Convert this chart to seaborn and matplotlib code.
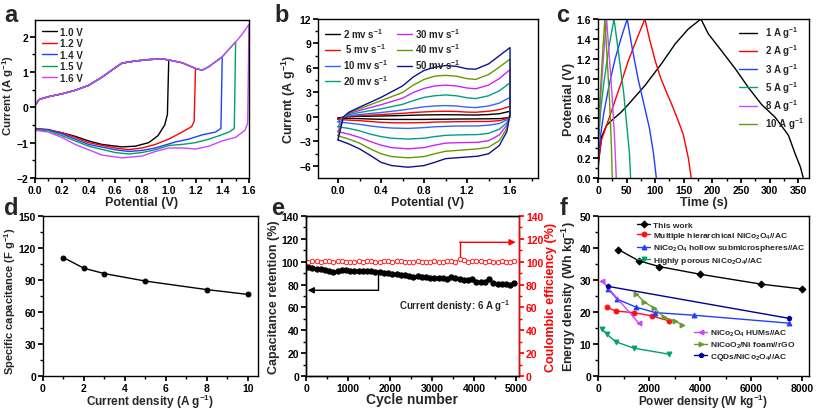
import matplotlib

matplotlib.use("Agg")
import matplotlib.pyplot as plt
import seaborn as sns
from matplotlib.ticker import FormatStrFormatter, MultipleLocator

# ---- panel a: CV at different voltage windows ----
a_windows = ["1.0 V", "1.2 V", "1.4 V", "1.5 V", "1.6 V"]
a_colors = ["#000000", "#ff0000", "#1f3fff", "#00a060", "#cc44ff"]
a_up_x = [0.0, 0.0, 0.03, 0.1, 0.2, 0.3, 0.4, 0.5, 0.6, 0.65, 0.75, 0.85, 0.95,
          1.0, 1.1, 1.2, 1.25, 1.3, 1.4, 1.5, 1.55, 1.6]
a_up_y = [-0.6, 0.05, 0.22, 0.3, 0.38, 0.48, 0.62, 0.85, 1.12, 1.25, 1.31, 1.35,
          1.37, 1.34, 1.26, 1.1, 1.05, 1.15, 1.43, 1.85, 2.07, 2.35]
a_vertex = [1.0, 1.2, 1.4, 1.5, 1.6]
a_dn_x = {
    "1.0 V": [1.0, 0.99, 0.97, 0.92, 0.85, 0.75, 0.65, 0.5, 0.4, 0.3, 0.2, 0.1, 0.0],
    "1.2 V": [1.2, 1.19, 1.17, 1.1, 1.0, 0.9, 0.8, 0.7, 0.6, 0.4, 0.3, 0.2, 0.1, 0.0],
    "1.4 V": [1.4, 1.39, 1.35, 1.25, 1.15, 1.05, 0.9, 0.8, 0.7, 0.6, 0.4, 0.3, 0.2, 0.1, 0.0],
    "1.5 V": [1.5, 1.49, 1.45, 1.38, 1.3, 1.2, 1.1, 1.0, 0.9, 0.8, 0.7, 0.6, 0.4, 0.3, 0.2, 0.1, 0.0],
    "1.6 V": [1.6, 1.59, 1.57, 1.5, 1.4, 1.3, 1.2, 1.1, 1.0, 0.9, 0.8, 0.65, 0.5, 0.4, 0.3, 0.2, 0.1, 0.0],
}
a_dn_y = {
    "1.0 V": [1.34, -0.2, -0.5, -0.8, -1.0, -1.1, -1.12, -1.05, -0.95, -0.82, -0.72, -0.65, -0.6],
    "1.2 V": [1.1, -0.4, -0.55, -0.7, -0.9, -1.05, -1.15, -1.2, -1.15, -1.0, -0.85, -0.72, -0.63, -0.6],
    "1.4 V": [1.43, -0.6, -0.7, -0.78, -0.9, -0.98, -1.15, -1.22, -1.25, -1.2, -1.05, -0.9, -0.75, -0.63, -0.62],
    "1.5 V": [1.85, -0.6, -0.7, -0.8, -0.9, -1.0, -1.05, -1.08, -1.2, -1.28, -1.32, -1.28, -1.1, -0.95, -0.8, -0.66, -0.63],
    "1.6 V": [2.35, -0.45, -0.65, -0.85, -0.95, -1.1, -1.18, -1.15, -1.15, -1.25, -1.38, -1.43, -1.35, -1.2, -1.05, -0.85, -0.7, -0.65],
}

# ---- panel b: CV at different scan rates ----
b_rates = ["2 mv s$^{-1}$", " 5 mv s$^{-1}$", "10 mv s$^{-1}$", "20 mv s$^{-1}$",
           "30 mv s$^{-1}$", "40 mv s$^{-1}$", "50 mv s$^{-1}$"]
b_colors = ["#000000", "#ff0000", "#3366ff", "#00a080", "#cc22ff", "#669900", "#101090"]
b_up_x = [0.0, 0.05, 0.1, 0.2, 0.4, 0.6, 0.7, 0.8, 0.9, 1.0, 1.1, 1.2, 1.28, 1.4, 1.5, 1.6]
b_dn_x = [1.6, 1.57, 1.5, 1.4, 1.3, 1.1, 1.0, 0.9, 0.8, 0.65, 0.5, 0.4, 0.3, 0.2, 0.1, 0.0]
b_up_y = [
    [-0.15, 0.0, 0.05, 0.08, 0.12, 0.18, 0.22, 0.25, 0.27, 0.28, 0.27, 0.25, 0.24, 0.3, 0.4, 0.7],
    [-0.3, 0.0, 0.1, 0.15, 0.3, 0.45, 0.55, 0.62, 0.68, 0.7, 0.68, 0.6, 0.58, 0.7, 0.9, 1.3],
    [-0.6, 0.0, 0.15, 0.3, 0.55, 0.85, 1.05, 1.25, 1.35, 1.4, 1.35, 1.2, 1.15, 1.35, 1.7, 2.4],
    [-1.2, -0.05, 0.3, 0.55, 1.0, 1.55, 2.0, 2.4, 2.6, 2.7, 2.6, 2.35, 2.25, 2.6, 3.2, 4.2],
    [-1.8, -0.1, 0.4, 0.8, 1.5, 2.3, 3.0, 3.5, 3.8, 3.9, 3.8, 3.55, 3.45, 3.9, 4.7, 5.8],
    [-2.3, -0.1, 0.5, 1.0, 2.0, 3.0, 3.9, 4.6, 5.0, 5.1, 5.0, 4.7, 4.6, 5.2, 6.1, 7.1],
    [-2.8, 0.0, 0.57, 1.2, 2.4, 3.8, 4.9, 5.7, 6.1, 6.3, 6.2, 5.9, 5.85, 6.5, 7.5, 8.5],
]
b_dn_y = [
    [0.0, -0.1, -0.2, -0.22, -0.23, -0.25, -0.27, -0.28, -0.3, -0.3, -0.3, -0.28, -0.25, -0.2, -0.17, -0.15],
    [0.05, -0.2, -0.45, -0.55, -0.55, -0.58, -0.6, -0.62, -0.68, -0.72, -0.7, -0.65, -0.55, -0.45, -0.38, -0.3],
    [0.1, -0.35, -0.8, -1.0, -1.1, -1.1, -1.15, -1.2, -1.3, -1.4, -1.35, -1.25, -1.1, -0.9, -0.75, -0.6],
    [0.2, -0.7, -1.5, -2.0, -2.15, -2.2, -2.25, -2.4, -2.6, -2.7, -2.6, -2.4, -2.1, -1.7, -1.4, -1.2],
    [0.3, -1.0, -2.2, -2.9, -3.1, -3.15, -3.2, -3.45, -3.75, -3.9, -3.75, -3.45, -3.0, -2.5, -2.1, -1.8],
    [0.3, -1.4, -2.9, -3.7, -3.9, -4.1, -4.2, -4.5, -4.85, -5.0, -4.85, -4.5, -3.9, -3.2, -2.7, -2.3],
    [0.4, -1.8, -3.5, -4.5, -4.8, -5.0, -5.1, -5.55, -5.95, -6.15, -5.95, -5.55, -4.7, -3.9, -3.3, -2.8],
]

# ---- panel c: charge/discharge curves ----
c_labels = ["1 A g$^{-1}$", "2 A g$^{-1}$", "3 A g$^{-1}$", "5 A g$^{-1}$",
            "8 A g$^{-1}$", "10 A g$^{-1}$"]
c_colors = ["#000000", "#ff0000", "#1f3fff", "#00a070", "#cc44ff", "#669900"]
c_t = [
    [0, 6, 15, 24, 40, 53, 82, 111, 135, 158, 180, 193, 216, 240, 263, 286, 310, 333, 345, 354, 359],
    [0, 6, 24, 40, 53, 70, 82, 90, 100, 110, 120, 129, 140, 149, 158, 163],
    [0, 5, 10, 20, 30, 40, 51, 60, 70, 80, 90, 97, 102],
    [0, 5, 10, 20, 28, 35, 45, 50, 55, 57],
    [0, 5, 10, 15, 20, 25, 29, 32],
    [0, 4, 8, 12, 16, 20, 23, 25],
]
c_v = [
    [0.1, 0.41, 0.53, 0.58, 0.66, 0.74, 0.93, 1.15, 1.35, 1.5, 1.6, 1.45, 1.28, 1.1, 0.91, 0.74, 0.61, 0.43, 0.24, 0.11, 0.0],
    [0.15, 0.38, 0.68, 0.95, 1.18, 1.43, 1.6, 1.4, 1.18, 1.0, 0.86, 0.74, 0.58, 0.44, 0.2, 0.0],
    [0.2, 0.45, 0.65, 0.95, 1.2, 1.4, 1.6, 1.3, 1.0, 0.75, 0.5, 0.25, 0.0],
    [0.3, 0.7, 0.95, 1.35, 1.6, 1.3, 0.85, 0.55, 0.25, 0.0],
    [0.35, 0.85, 1.25, 1.6, 1.2, 0.8, 0.4, 0.0],
    [0.4, 0.85, 1.25, 1.6, 1.2, 0.8, 0.4, 0.0],
]

# ---- panel d: rate capability ----
d_current = [1, 2, 3, 5, 8, 10]
d_capacitance = [111, 101, 96, 89, 81, 76.5]

# ---- panel e: cycling ----
e_cycles = list(range(50, 5000, 100))
e_retention = [95.5, 94.5, 93.8, 93.2, 92.8, 92.3, 91.2, 91.5, 92.6, 92.8,
               92.3, 92.0, 92.2, 92.0, 91.8, 91.5, 91.0, 91.2, 90.5, 90.0,
               89.6, 89.2, 88.6, 88.0, 87.3, 87.0, 87.8, 86.8, 86.2, 86.0,
               85.8, 85.9, 85.6, 84.6, 86.2, 85.8, 85.0, 83.8, 84.0, 84.6,
               82.5, 82.0, 82.3, 84.8, 81.0, 80.8, 80.6, 80.4, 79.8, 81.0]
e_efficiency = [99.5, 100.8, 100.2, 99.6, 100.9, 100.3, 99.8, 100.6, 101.0, 100.1,
                99.4, 99.7, 100.5, 99.9, 100.7, 100.3, 100.0, 99.6, 100.8, 100.4,
                99.7, 100.2, 100.6, 99.8, 100.1, 99.5, 100.3, 99.9, 100.0, 99.6,
                100.2, 99.8, 99.9, 100.3, 100.5, 99.8, 102.0, 101.2, 99.6, 100.9,
                100.4, 101.0, 99.9, 100.5, 100.0, 99.8, 100.3, 100.1, 99.7, 100.2]

# ---- panel f: Ragone plot ----
f_labels = ["This work", "Multiple hierarchical NiCo$_2$O$_4$//AC",
            "NiCo$_2$O$_4$ hollow submicrospheres//AC", "Highly porous NiCo$_2$O$_4$//AC",
            "NiCo$_2$O$_4$ HUMs//AC", "NiCoO$_2$/Ni foam//rGO", "CQDs/NiCo$_2$O$_4$//AC"]
f_colors = ["#000000", "#ff1010", "#1f3fff", "#00a070", "#cc44ff", "#669933", "#000090"]
f_markers = ["D", "o", "^", "v", "<", ">", "p"]
f_power = [
    [800, 1600, 2400, 4000, 6400, 8000],
    [350, 700, 1400, 2100, 2800],
    [400, 750, 1500, 2250, 3750, 7500],
    [150, 350, 700, 1400, 2800],
    [150, 1600],
    [1500, 1800, 2200, 2600, 3000, 3300],
    [400, 7500],
]
f_energy = [
    [39.5, 36.0, 34.2, 31.8, 28.7, 27.2],
    [21.5, 20.3, 19.8, 18.8, 17.2],
    [27.3, 24.0, 21.5, 19.8, 19.0, 16.5],
    [14.8, 13.0, 10.7, 8.7, 6.8],
    [29.8, 16.5],
    [25.7, 23.2, 21.2, 18.3, 17.2, 16.0],
    [28.0, 18.0],
]

sns.set_theme(style="ticks")
plt.rcParams["font.family"] = ["Liberation Sans", "DejaVu Sans"]
plt.rcParams.update({
    "font.weight": "bold",
    "axes.labelweight": "bold",
    "axes.edgecolor": "black",
    "axes.linewidth": 1.0,
    "xtick.color": "black",
    "ytick.color": "black",
    "xtick.labelsize": 7.5,
    "ytick.labelsize": 7.5,
    "axes.labelsize": 9,
    "xtick.major.size": 3.5,
    "ytick.major.size": 3.5,
    "xtick.minor.size": 2,
    "ytick.minor.size": 2,
    "xtick.major.pad": 1.5,
    "ytick.major.pad": 1.5,
    "mathtext.fontset": "custom",
    "mathtext.rm": "Liberation Sans:bold",
    "mathtext.bf": "Liberation Sans:bold",
    "mathtext.it": "Liberation Sans:bold",
    "mathtext.default": "bf",
    "legend.fontsize": 7,
})

fig = plt.figure(figsize=(8.17, 4.10), dpi=100)
W, H = 817, 410


def add_axes(x0, y0, x1, y1):
    return fig.add_axes([x0 / W, 1 - y1 / H, (x1 - x0) / W, (y1 - y0) / H])


ax_a = add_axes(35, 21, 249, 179)
ax_b = add_axes(318, 20, 538, 179)
ax_c = add_axes(598, 20, 809, 179)
ax_d = add_axes(43, 217, 258, 377)
ax_e = add_axes(306, 217, 519, 377)
ax_f = add_axes(598, 217, 809, 377)

for ax in [ax_a, ax_b, ax_c, ax_d, ax_e, ax_f]:
    ax.tick_params(which="both", direction="out", top=False, right=False)

# a
for name, col, vx in zip(a_windows, a_colors, a_vertex):
    ux = [x for x in a_up_x if x < vx]
    uy = a_up_y[: len(ux)]
    sns.lineplot(x=ux + a_dn_x[name], y=uy + a_dn_y[name], sort=False,
                 estimator=None, color=col, lw=1.0, label=name, ax=ax_a)
ax_a.set_xlim(0, 1.6)
ax_a.set_ylim(-2, 2.47)
ax_a.xaxis.set_major_locator(MultipleLocator(0.2))
ax_a.xaxis.set_minor_locator(MultipleLocator(0.1))
ax_a.yaxis.set_major_locator(MultipleLocator(1))
ax_a.yaxis.set_minor_locator(MultipleLocator(0.5))
ax_a.xaxis.set_major_formatter(FormatStrFormatter("%.1f"))
ax_a.set_xlabel("Potential (V)", labelpad=0.5)
ax_a.set_ylabel("Current (A g$^{-1}$)", fontsize=8.2, labelpad=0)
ax_a.yaxis.set_label_coords(-0.09, 0.53)
ax_a.legend(loc="upper left", frameon=False, handlelength=1.6, handletextpad=0.3,
            labelspacing=0.15, borderaxespad=0.3, prop={"weight": "bold", "size": 7})

# b
for name, col, uy, dy in zip(b_rates, b_colors, b_up_y, b_dn_y):
    sns.lineplot(x=b_up_x + b_dn_x, y=uy + dy, sort=False, estimator=None,
                 color=col, lw=1.0, label=name, ax=ax_b)
ax_b.set_xlim(-0.186, 1.86)
ax_b.set_ylim(-7.47, 12)
ax_b.xaxis.set_major_locator(MultipleLocator(0.4))
ax_b.xaxis.set_minor_locator(MultipleLocator(0.2))
ax_b.yaxis.set_major_locator(MultipleLocator(3))
ax_b.yaxis.set_minor_locator(MultipleLocator(1.5))
ax_b.xaxis.set_major_formatter(FormatStrFormatter("%.1f"))
ax_b.set_xlabel("Potential (V)", labelpad=0.5)
ax_b.set_ylabel("Current (A g$^{-1}$)", labelpad=1)
ax_b.legend(loc="upper left", frameon=False, ncol=2, handlelength=1.6,
            handletextpad=0.3, labelspacing=0.2, columnspacing=0.8,
            borderaxespad=0.3, prop={"weight": "bold", "size": 7})

# c
for name, col, t, v in zip(c_labels, c_colors, c_t, c_v):
    sns.lineplot(x=t, y=v, sort=False, estimator=None, color=col, lw=1.0,
                 label=name, ax=ax_c)
ax_c.set_xlim(0, 369)
ax_c.set_ylim(0, 1.6)
ax_c.xaxis.set_major_locator(MultipleLocator(50))
ax_c.xaxis.set_minor_locator(MultipleLocator(25))
ax_c.yaxis.set_major_locator(MultipleLocator(0.2))
ax_c.yaxis.set_minor_locator(MultipleLocator(0.1))
ax_c.yaxis.set_major_formatter(FormatStrFormatter("%.1f"))
ax_c.set_xlabel("Time (s)", labelpad=0.5)
ax_c.set_ylabel("Potential (V)", labelpad=1)
ax_c.legend(loc="upper right", frameon=False, handlelength=1.8, handletextpad=0.8,
            labelspacing=0.25, borderaxespad=0.15, prop={"weight": "bold", "size": 7})

# d
sns.lineplot(x=d_current, y=d_capacitance, color="black", lw=1.0, marker="o",
             markersize=3.5, markeredgecolor="black", ax=ax_d)
ax_d.set_xlim(0, 10.5)
ax_d.set_ylim(0, 150)
ax_d.xaxis.set_major_locator(MultipleLocator(2))
ax_d.xaxis.set_minor_locator(MultipleLocator(1))
ax_d.yaxis.set_major_locator(MultipleLocator(30))
ax_d.yaxis.set_minor_locator(MultipleLocator(15))
ax_d.set_xlabel("Current density (A g$^{-1}$)", fontsize=8.5, labelpad=-0.5)
ax_d.set_ylabel("Specific capacitance (F g$^{-1}$)", fontsize=8, labelpad=0)
ax_d.yaxis.set_label_coords(-0.115, 0.47)

# e
sns.lineplot(x=e_cycles, y=e_retention, color="black", lw=0.8, marker="o",
             markersize=3.8, markeredgecolor="black", ax=ax_e)
ax_e.set_xlim(0, 5060)
ax_e.set_ylim(0, 140)
ax_e.xaxis.set_major_locator(MultipleLocator(1000))
ax_e.xaxis.set_minor_locator(MultipleLocator(500))
ax_e.yaxis.set_major_locator(MultipleLocator(20))
ax_e.yaxis.set_minor_locator(MultipleLocator(10))
ax_e.set_xlabel("Cycle number", fontsize=10, labelpad=-0.5)
ax_e.set_ylabel("Capacitance retention (%)", labelpad=1)
ax_e2 = ax_e.twinx()
sns.lineplot(x=e_cycles, y=e_efficiency, color="#ff2020", lw=0.6, marker="o",
             markersize=3.2, markerfacecolor="white", markeredgecolor="#ff2020",
             markeredgewidth=0.7, ax=ax_e2)
ax_e2.set_ylim(0, 140)
ax_e2.yaxis.set_major_locator(MultipleLocator(20))
ax_e2.yaxis.set_minor_locator(MultipleLocator(10))
ax_e2.tick_params(which="both", direction="out", colors="#ff0000")
ax_e2.spines["right"].set_color("#ff0000")
ax_e2.set_ylabel("Coulombic efficiency (%)", color="#ff0000", labelpad=1)
ax_e.annotate("", xy=(40, 75), xytext=(1700, 75),
              arrowprops=dict(arrowstyle="-|>", color="black", lw=1.0,
                              mutation_scale=9, shrinkA=0, shrinkB=0))
ax_e.plot([1700, 1700], [91, 75], color="black", lw=1.0)
ax_e.annotate("", xy=(4980, 117), xytext=(3650, 117),
              arrowprops=dict(arrowstyle="-|>", color="#ff0000", lw=1.0,
                              mutation_scale=9, shrinkA=0, shrinkB=0))
ax_e.plot([3650, 3650], [102, 117], color="#ff0000", lw=1.0)
ax_e.text(4850, 62, "Current denisty: 6 A g$^{-1}$", ha="right", va="center",
          fontsize=7, fontweight="bold")

# f
for name, col, mk, p, e in zip(f_labels, f_colors, f_markers, f_power, f_energy):
    sns.lineplot(x=p, y=e, color=col, lw=1.0, marker=mk, markersize=3.5,
                 markeredgecolor=col, label=name, ax=ax_f)
ax_f.set_xlim(0, 8270)
ax_f.set_ylim(0, 50)
ax_f.xaxis.set_major_locator(MultipleLocator(2000))
ax_f.xaxis.set_minor_locator(MultipleLocator(1000))
ax_f.yaxis.set_major_locator(MultipleLocator(10))
ax_f.yaxis.set_minor_locator(MultipleLocator(5))
ax_f.set_xlabel("Power density (W kg$^{-1}$)", fontsize=8.5, labelpad=-0.5)
ax_f.set_ylabel("Energy density (Wh kg$^{-1}$)", labelpad=1)
handles, labels = ax_f.get_legend_handles_labels()
leg1 = ax_f.legend(handles[:4], labels[:4], loc="upper left",
                   bbox_to_anchor=(0.15, 1.015), frameon=False, handlelength=1.6,
                   handletextpad=0.3, labelspacing=0.15,
                   prop={"weight": "bold", "size": 6})
ax_f.add_artist(leg1)
ax_f.legend(handles[4:], labels[4:], loc="lower left", bbox_to_anchor=(0.42, 0.04),
            frameon=False, handlelength=1.6, handletextpad=0.3, labelspacing=0.15,
            prop={"weight": "bold", "size": 6})

# panel letters
for letter, (px, py) in zip("abcdef", [(4, 4), (274, 4), (556, 4), (4, 197),
                                       (271, 197), (560, 197)]):
    fig.text(px / W, 1 - py / H, letter, fontsize=17, fontweight="bold",
             ha="left", va="top")

fig.savefig("out.png", dpi=100)
